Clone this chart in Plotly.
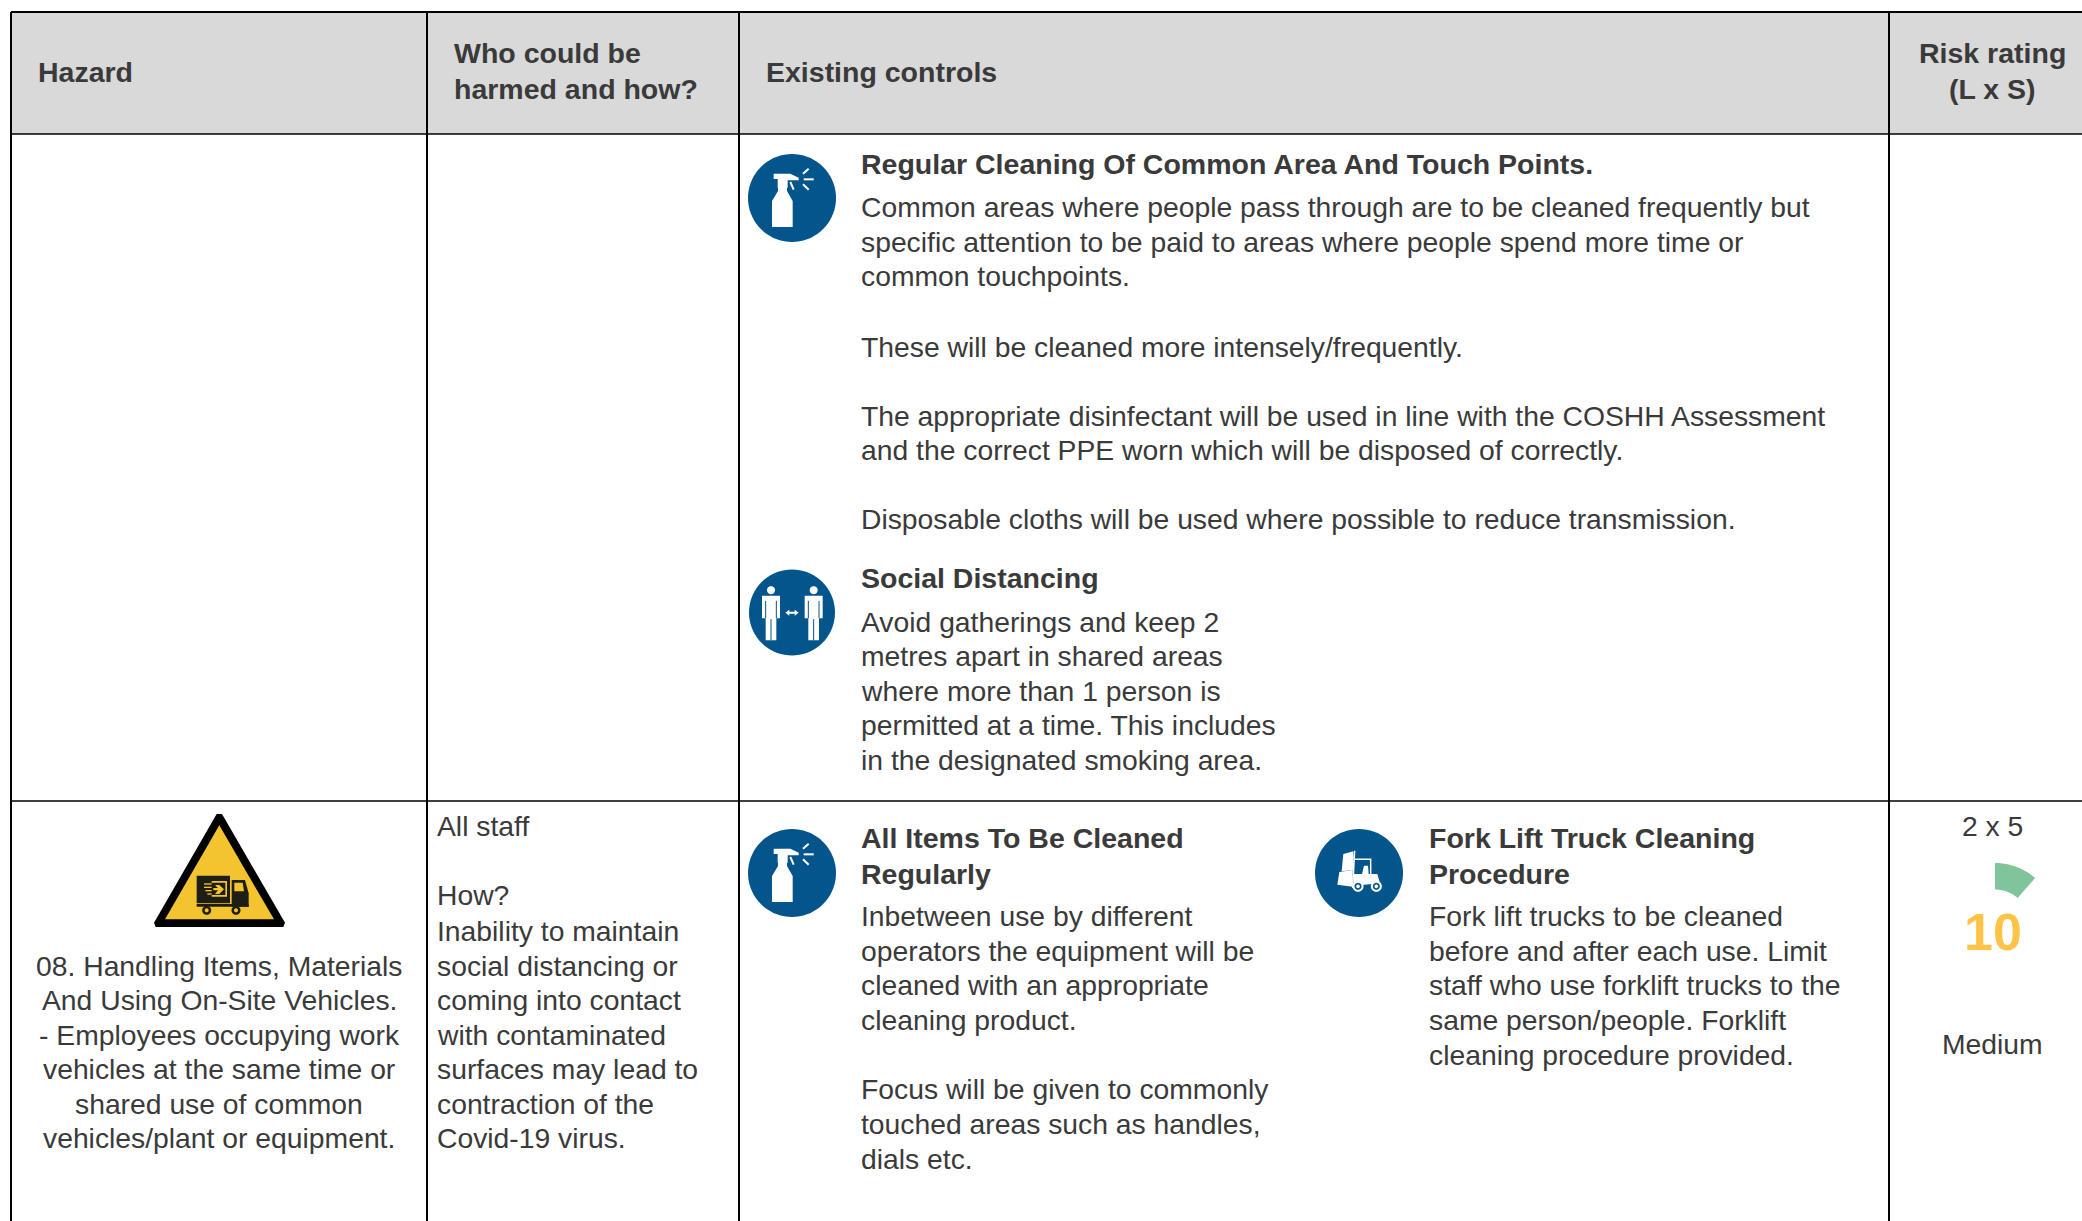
import math
import plotly.graph_objects as go

W, H = 2082, 1221
FONT = "Liberation Sans"
INK = "#3A3A3A"
BLUE = "#03558C"

# ---- table content ----
header_labels = ["Hazard", "Who could be", "harmed and how?", "Existing controls", "Risk rating", "(L x S)"]
cleaning_title = "Regular Cleaning Of Common Area And Touch Points."
cleaning_lines = [
    "Common areas where people pass through are to be cleaned frequently but",
    "specific attention to be paid to areas where people spend more time or",
    "common touchpoints.",
    "These will be cleaned more intensely/frequently.",
    "The appropriate disinfectant will be used in line with the COSHH Assessment",
    "and the correct PPE worn which will be disposed of correctly.",
    "Disposable cloths will be used where possible to reduce transmission.",
]
distancing_title = "Social Distancing"
distancing_lines = [
    "Avoid gatherings and keep 2",
    "metres apart in shared areas",
    "where more than 1 person is",
    "permitted at a time. This includes",
    "in the designated smoking area.",
]
hazard_lines = [
    "08. Handling Items, Materials",
    "And Using On-Site Vehicles.",
    "- Employees occupying work",
    "vehicles at the same time or",
    "shared use of common",
    "vehicles/plant or equipment.",
]
who_lines = [
    "All staff",
    "How?",
    "Inability to maintain",
    "social distancing or",
    "coming into contact",
    "with contaminated",
    "surfaces may lead to",
    "contraction of the",
    "Covid-19 virus.",
]
items_title = ["All Items To Be Cleaned", "Regularly"]
items_lines = [
    "Inbetween use by different",
    "operators the equipment will be",
    "cleaned with an appropriate",
    "cleaning product.",
    "Focus will be given to commonly",
    "touched areas such as handles,",
    "dials etc.",
]
fork_title = ["Fork Lift Truck Cleaning", "Procedure"]
fork_lines = [
    "Fork lift trucks to be cleaned",
    "before and after each use. Limit",
    "staff who use forklift trucks to the",
    "same person/people. Forklift",
    "cleaning procedure provided.",
]
rating_text = "2 x 5"
rating_score = "10"
rating_label = "Medium"

# ---- layout of the page (pixels) ----
col_x = [11, 427, 739, 1889]
header_y = [12, 134]
row_y = 801

cleaning_y = [207, 242, 276, 347, 416, 450, 519]
distancing_y = [622, 656, 691, 725, 760]
hazard_y = [966, 1000, 1035, 1069, 1104, 1138]
who_y = [826, 895, 931, 966, 1000, 1035, 1069, 1104, 1138]
items_y = [916, 951, 985, 1020, 1089, 1124, 1159]
fork_y = [916, 951, 985, 1020, 1055]

BODY = 28.3
BOLD = 28.5
annotations = []
shapes = []


def text(x, y, s, size=None, bold=False, anchor="left", color=INK):
    size = size or (BOLD if bold else BODY)
    annotations.append(dict(
        x=x, y=y, text=f"<b>{s}</b>" if bold else s, showarrow=False,
        xanchor=anchor, yanchor="middle", borderpad=0, borderwidth=0,
        font=dict(family=FONT, size=size, color=color),
    ))


def fill(path, color):
    shapes.append(dict(type="path", path=path, fillcolor=color, line=dict(width=0), xref="x", yref="y"))


def stroke(path, color, width):
    shapes.append(dict(type="path", path=path, line=dict(color=color, width=width), xref="x", yref="y"))


def poly(pts):
    return "M" + " L".join(f"{x:.2f},{y:.2f}" for x, y in pts) + " Z"


def seg(pts):
    return "M" + " L".join(f"{x:.2f},{y:.2f}" for x, y in pts)


def circle_path(cx, cy, r):
    n = 72
    return poly([(cx + r * math.cos(2 * math.pi * i / n), cy + r * math.sin(2 * math.pi * i / n)) for i in range(n)])


def rect(x0, y0, x1, y1, color):
    shapes.append(dict(type="rect", x0=x0, y0=y0, x1=x1, y1=y1, fillcolor=color, line=dict(width=0), xref="x", yref="y"))


def tx(cx, cy, ox, oy, pts):
    """Map zoom-space (3x) icon points around origin (ox, oy) to the page around (cx, cy)."""
    return [(cx + (x - ox) / 3, cy + (y - oy) / 3) for x, y in pts]


def spray_icon(cx, cy):
    fill(circle_path(cx, cy, 44), BLUE)
    T = lambda pts: tx(cx, cy, 185, 203, pts)
    fill(poly(T([(125, 290), (125, 212), (143, 182), (143, 170), (170, 170), (170, 182),
                 (187, 212), (187, 290)])), "white")
    fill(poly(T([(130, 130), (180, 130), (205, 142), (205, 150), (172, 150), (172, 172),
                 (142, 172), (142, 146), (130, 146)])), "white")
    for a, b in [((180, 155), (190, 178)), ((218, 130), (235, 115)), ((220, 147), (250, 147)), ((218, 162), (235, 178))]:
        stroke(seg(T([a, b])), "white", 2)


def person(cx, cy, px):
    T = lambda pts: tx(cx, cy, 185, 185, pts)
    hx, hy = T([(px, 118)])[0]
    fill(circle_path(hx, hy, 4), "white")
    fill(poly(T([(px - 27, 135), (px + 27, 135), (px + 27, 202), (px + 16, 202), (px + 16, 268),
                 (px - 16, 268), (px - 16, 202), (px - 27, 202)])), "white")
    for a, b in [((px - 16, 150), (px - 16, 202)), ((px + 16, 150), (px + 16, 202)), ((px, 205), (px, 268))]:
        stroke(seg(T([a, b])), BLUE, 1)


def distancing_icon(cx, cy):
    fill(circle_path(cx, cy, 43), BLUE)
    person(cx, cy, 122)
    person(cx, cy, 250)
    T = lambda pts: tx(cx, cy, 185, 185, pts)
    fill(poly(T([(165, 186), (177, 177), (177, 183), (193, 183), (193, 177), (205, 186),
                 (193, 195), (193, 189), (177, 189), (177, 195)])), "white")


def forklift_icon(cx, cy):
    fill(circle_path(cx, cy, 44), BLUE)
    T = lambda pts: tx(cx, cy, 177, 187, pts)
    fill(poly(T([(130, 130), (160, 122), (162, 178), (125, 182)])), "white")
    fill(poly(T([(118, 184), (158, 178), (158, 228), (112, 222)])), "white")
    stroke(seg(T([(164, 120), (158, 232)])), "white", 1.5)
    stroke(seg(T([(164, 146), (212, 146), (212, 190)])), "white", 1.5)
    fill(poly(T([(162, 190), (186, 190), (192, 165), (204, 165), (206, 190), (232, 190),
                 (240, 218), (162, 225)])), "white")
    for wx in (174, 229):
        wcx, wcy = T([(wx, 227)])[0]
        fill(circle_path(wcx, wcy, 5.5), "white")
        fill(circle_path(wcx, wcy, 3.5), BLUE)
        fill(circle_path(wcx, wcy, 1.8), "white")


def hazard_icon():
    T = lambda pts: tx(130, 800, 0, 0, pts)
    DARK = "#1E1E14"
    YEL = "#F4C430"
    fill(poly(T([(260, 42), (276, 42), (465, 368), (460, 381), (77, 381), (72, 368)])), "black")
    fill(poly(T([(268, 76), (105, 358), (432, 358)])), YEL)
    fill(poly(T([(200, 227), (300, 227), (300, 310), (200, 310)])), DARK)
    fill(poly(T([(305, 240), (345, 240), (356, 280), (356, 320), (305, 320)])), DARK)
    fill(poly(T([(313, 248), (338, 248), (342, 274), (313, 274)])), YEL)
    fill(poly(T([(200, 312), (356, 312), (356, 320), (200, 320)])), DARK)
    for wx in (230, 318):
        wcx, wcy = T([(wx, 331)])[0]
        fill(circle_path(wcx, wcy, 4.5), DARK)
        fill(circle_path(wcx, wcy, 2), YEL)
    fill(poly(T([(245, 243), (291, 243), (291, 290), (245, 290), (245, 285), (286, 285), (286, 248), (245, 248)])), YEL)
    fill(poly(T([(255, 255), (268, 255), (282, 268), (268, 282), (255, 282), (264, 271), (250, 271), (250, 264), (264, 264)])), YEL)
    for y0, x0 in [(250, 222), (260, 222), (270, 226), (280, 232)]:
        fill(poly(T([(x0, y0), (245, y0), (245, y0 + 4), (x0, y0 + 4)])), YEL)


def gauge(cx, cy, outer, inner, a0, a1, color):
    def P(r, a):
        rad = math.radians(a)
        return cx + r * math.sin(rad), cy - r * math.cos(rad)
    steps = [a0 + (a1 - a0) * i / 24 for i in range(25)]
    fill(poly([P(outer, a) for a in steps] + [P(inner, a) for a in reversed(steps)]), color)


# ---- grid ----
rect(col_x[0], header_y[0], W, header_y[1], "#D9D9D9")
LINE = dict(color="black", width=2)
shapes.append(dict(type="line", x0=col_x[0], x1=W, y0=header_y[0], y1=header_y[0], line=LINE, xref="x", yref="y"))
shapes.append(dict(type="line", x0=col_x[0], x1=W, y0=header_y[1], y1=header_y[1], line=dict(color="black", width=1.5), xref="x", yref="y"))
shapes.append(dict(type="line", x0=col_x[0], x1=W, y0=row_y, y1=row_y, line=dict(color="black", width=1.5), xref="x", yref="y"))
for x in col_x:
    shapes.append(dict(type="line", x0=x, x1=x, y0=header_y[0], y1=H, line=LINE, xref="x", yref="y"))

# ---- header ----
text(38, 72, header_labels[0], bold=True)
text(454, 53, header_labels[1], bold=True)
text(454, 89, header_labels[2], bold=True)
text(766, 72, header_labels[3], bold=True)
text(1992, 53, header_labels[4], bold=True, anchor="center")
text(1992, 89, header_labels[5], bold=True, anchor="center")

# ---- existing controls ----
text(861, 163.5, cleaning_title, bold=True)
for y, s in zip(cleaning_y, cleaning_lines):
    text(861, y, s)
text(861, 578, distancing_title, bold=True)
for y, s in zip(distancing_y, distancing_lines):
    text(861, y, s)
text(861, 838, items_title[0], bold=True)
text(861, 874, items_title[1], bold=True)
for y, s in zip(items_y, items_lines):
    text(861, y, s)
text(1429, 838, fork_title[0], bold=True)
text(1429, 874, fork_title[1], bold=True)
for y, s in zip(fork_y, fork_lines):
    text(1429, y, s)

# ---- hazard / who ----
for y, s in zip(hazard_y, hazard_lines):
    text(219, y, s, anchor="center")
for y, s in zip(who_y, who_lines):
    text(437, y, s)

# ---- rating ----
text(1992, 826, rating_text, anchor="center")
text(1993, 932, rating_score, size=52, bold=True, anchor="center", color="#FFC447")
text(1992, 1044, rating_label, anchor="center")
gauge(1995, 924, 61, 34.5, 0, 41, "#7FC49A")

# ---- icons ----
spray_icon(792, 198)
distancing_icon(792, 612.5)
spray_icon(792, 873)
forklift_icon(1359, 873)
hazard_icon()

fig = go.Figure(go.Scatter(x=[], y=[], hoverinfo="skip", showlegend=False))
fig.update_layout(
    width=W, height=H, margin=dict(l=0, r=0, t=0, b=0, pad=0),
    paper_bgcolor="white", plot_bgcolor="white", showlegend=False,
    xaxis=dict(range=[0, W], visible=False, fixedrange=True),
    yaxis=dict(range=[H, 0], visible=False, fixedrange=True),
    shapes=shapes, annotations=annotations,
)
fig.write_html("out.html", config=dict(displayModeBar=False),
               post_script="document.body.style.margin='0';document.body.style.overflow='hidden';")
